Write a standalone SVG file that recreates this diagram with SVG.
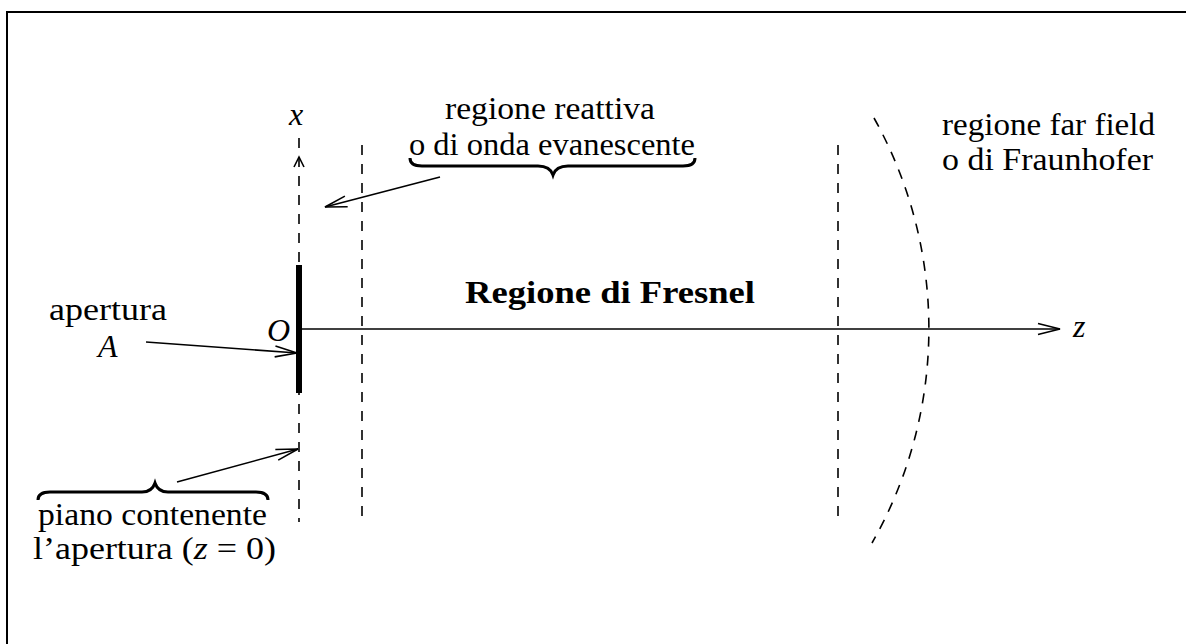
<svg xmlns="http://www.w3.org/2000/svg" width="1186" height="644" viewBox="0 0 1186 644">
<defs>
<style>
.t{font-family:"Liberation Serif","DejaVu Serif",serif;font-size:32px;fill:#000}
.i{font-style:italic}
.b{font-weight:bold}
.ln{stroke:#000;stroke-width:1.6;fill:none}
.d{stroke:#000;stroke-width:1.6;fill:none;stroke-dasharray:10 9}
.br{stroke:#000;stroke-width:3;fill:none}
</style>
<marker id="ah" viewBox="0 0 24 14" refX="23" refY="7" markerWidth="24" markerHeight="14" markerUnits="userSpaceOnUse" orient="auto">
<path d="M1,1.5 L23,7 L1,12.5" fill="none" stroke="#000" stroke-width="1.6"/>
</marker>
</defs>
<rect x="0" y="0" width="1186" height="644" fill="#fff"/>
<path d="M7,644 L7,12 L1186,12" fill="none" stroke="#000" stroke-width="2"/>
<g id="axes">
<line class="d" x1="299" y1="138" x2="299" y2="522"/>
<path class="ln" d="M294,167 L299,157 L304,167"/>
<line class="ln" x1="299" y1="329" x2="1060" y2="329" marker-end="url(#ah)"/>
<text class="t i" x="289" y="125">x</text>
<text class="t i" x="1073" y="337">z</text>
<text class="t i" x="267" y="341">O</text>
</g>
<g id="aperture">
<line x1="299" y1="265" x2="299" y2="393" stroke="#000" stroke-width="6"/>
</g>
<g id="boundaries">
<line class="d" x1="362" y1="145" x2="362" y2="522"/>
<line class="d" x1="838" y1="145" x2="838" y2="522"/>
<path class="d" d="M874,118 A432,432 0 0 1 872,543"/>
</g>
<g id="labels">
<text class="t" x="445" y="119" textLength="210" lengthAdjust="spacingAndGlyphs">regione reattiva</text>
<text class="t" x="409" y="155" textLength="286" lengthAdjust="spacingAndGlyphs">o di onda evanescente</text>
<path class="br" d="M410,158 Q410,166 422,166 L538,166 Q550,166 553,175 Q556,166 568,166 L683,166 Q695,166 695,158"/>
<text class="t" x="942" y="135" textLength="213" lengthAdjust="spacingAndGlyphs">regione far field</text>
<text class="t" x="942" y="170" textLength="211" lengthAdjust="spacingAndGlyphs">o di Fraunhofer</text>
<text class="t b" x="465" y="303" textLength="290" lengthAdjust="spacingAndGlyphs">Regione di Fresnel</text>
<text class="t" x="49" y="320" textLength="118" lengthAdjust="spacingAndGlyphs">apertura</text>
<text class="t i" x="98" y="357">A</text>
<path class="br" d="M38,500 Q38,492 50,492 L142,492 Q152,492 155,483 Q158,492 168,492 L256,492 Q268,492 268,500"/>
<text class="t" x="38" y="525" textLength="229" lengthAdjust="spacingAndGlyphs">piano contenente</text>
<text class="t" x="33" y="559" textLength="243" lengthAdjust="spacingAndGlyphs">l’apertura (<tspan class="i">z</tspan> = 0)</text>
</g>
<g id="connectors">
<line class="ln" x1="440" y1="177" x2="325" y2="207" marker-end="url(#ah)"/>
<line class="ln" x1="146" y1="342" x2="297" y2="353" marker-end="url(#ah)"/>
<line class="ln" x1="177" y1="482" x2="298" y2="449" marker-end="url(#ah)"/>
</g>
</svg>
